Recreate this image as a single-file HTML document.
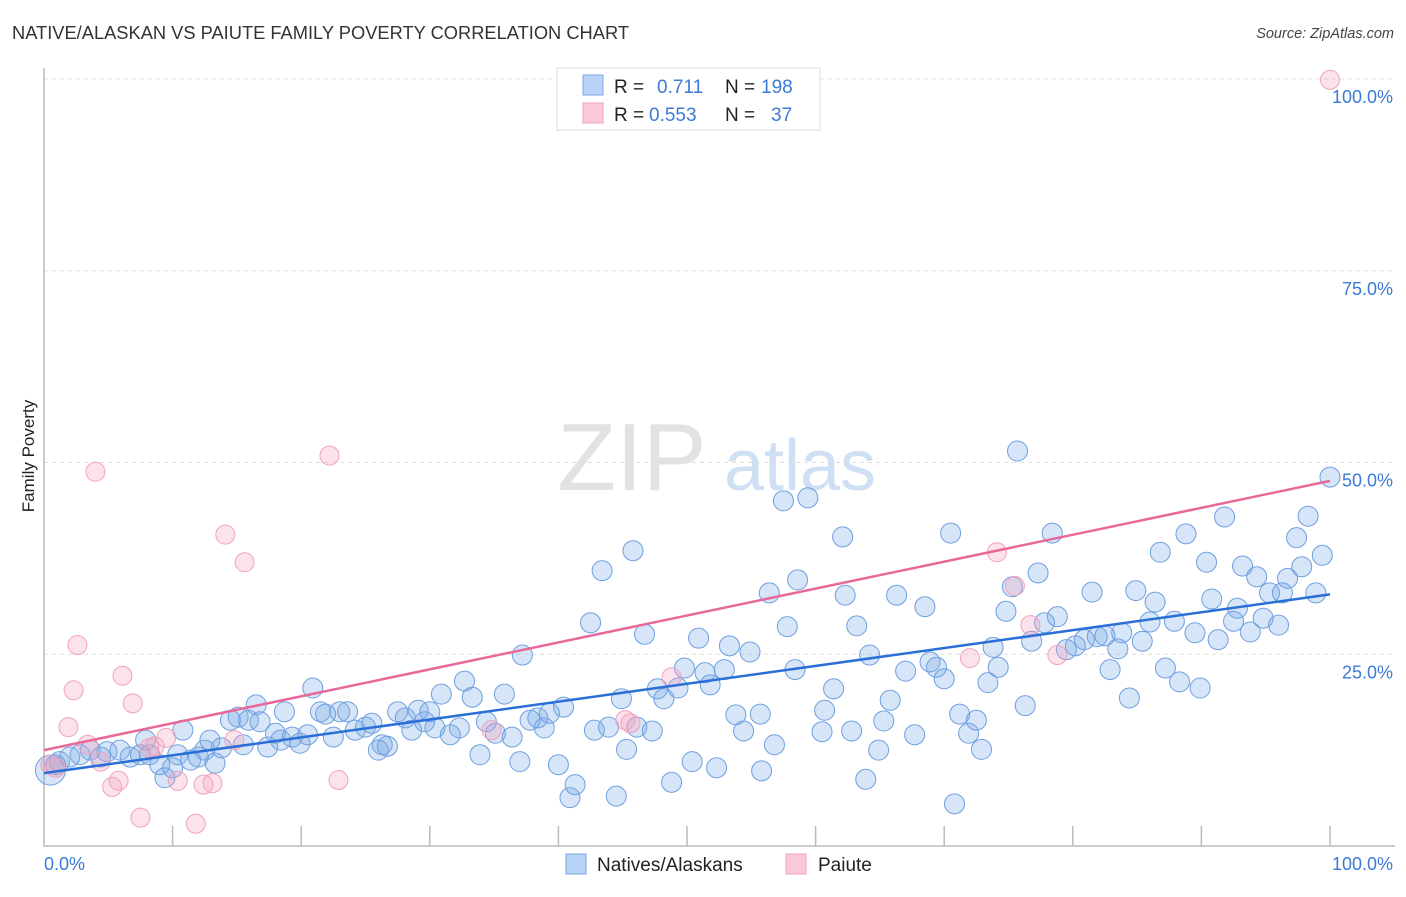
<!DOCTYPE html>
<html><head><meta charset="utf-8"><style>
body{margin:0;background:#fff;font-family:"Liberation Sans",sans-serif;}
svg text{font-family:"Liberation Sans",sans-serif;}
</style></head><body>
<svg id="chart" width="1406" height="892" xmlns="http://www.w3.org/2000/svg">
<text x="12" y="39" font-size="18.3" fill="#333">NATIVE/ALASKAN VS PAIUTE FAMILY POVERTY CORRELATION CHART</text>
<text x="1394" y="38" font-size="14.5" fill="#444" text-anchor="end" font-style="italic">Source: ZipAtlas.com</text>
<text transform="translate(34,456) rotate(-90)" font-size="17" fill="#222" text-anchor="middle">Family Poverty</text>
<g>
<text x="632" y="490" font-size="96" fill="#e2e2e2" text-anchor="middle" font-family="Liberation Serif,serif">ZIP</text>
<text x="800" y="490" font-size="72" fill="#cfe0f4" text-anchor="middle">atlas</text>
</g>
<g id="grid"></g><g id="axes"></g><g id="pts"></g><g id="lines"></g>
<g>
<rect x="557" y="68" width="263" height="62" fill="#fff" stroke="#ddd"/>
<rect x="583" y="75" width="20" height="20" fill="#b8d3f5" stroke="#7aa8e6"/>
<rect x="583" y="103" width="20" height="20" fill="#f9c9d8" stroke="#eea4bd"/>
<text x="614" y="93" font-size="19" fill="#222">R =</text><text x="657" y="93" font-size="19" fill="#3b7ad6">0.711</text>
<text x="725" y="93" font-size="19" fill="#222">N =</text><text x="761" y="93" font-size="19" fill="#3b7ad6">198</text>
<text x="614" y="121" font-size="19" fill="#222">R =</text><text x="649" y="121" font-size="19" fill="#3b7ad6">0.553</text>
<text x="725" y="121" font-size="19" fill="#222">N =</text><text x="771" y="121" font-size="19" fill="#3b7ad6">37</text>
</g>
<g>
<rect x="566" y="854" width="20" height="20" fill="#b8d3f5" stroke="#7aa8e6"/>
<text x="597" y="871" font-size="19" fill="#222">Natives/Alaskans</text>
<rect x="786" y="854" width="20" height="20" fill="#f9c9d8" stroke="#eea4bd"/>
<text x="818" y="871" font-size="19" fill="#222">Paiute</text>
</g>
</svg>
<script>
const blueX=[0.5,0.9,1.2,2.0,2.8,3.6,4.4,4.9,5.9,6.7,7.5,7.9,8.2,9.0,9.4,10.0,10.4,10.8,11.4,12.0,12.5,12.9,13.3,13.8,14.5,15.1,15.5,15.9,16.5,16.8,17.4,18.0,18.4,18.7,19.3,19.9,20.5,20.9,21.5,21.9,22.5,23.0,23.6,24.2,25.0,25.5,26.0,26.3,26.7,27.5,28.1,28.6,29.1,29.6,30.0,30.4,30.9,31.6,32.3,32.7,33.3,33.9,34.4,35.1,35.8,36.4,37.0,37.2,37.8,38.4,38.9,39.3,40.0,40.4,40.9,41.3,42.5,42.8,43.4,43.9,44.5,44.9,45.3,45.8,46.1,46.7,47.3,47.7,48.2,48.8,49.3,49.8,50.4,50.9,51.4,51.8,52.3,52.9,53.3,53.8,54.4,54.9,55.7,55.8,56.4,56.8,57.5,57.8,58.4,58.6,59.4,60.5,60.7,61.4,62.1,62.3,62.8,63.2,63.9,64.2,64.9,65.3,65.8,66.3,67.0,67.7,68.5,68.9,69.4,70.0,70.5,70.8,71.2,71.9,72.5,72.9,73.4,73.8,74.2,74.8,75.3,75.7,76.3,76.8,77.3,77.8,78.4,78.8,79.5,80.2,80.9,81.5,81.9,82.5,82.9,83.5,83.8,84.4,84.9,85.4,86.0,86.4,86.8,87.2,87.9,88.3,88.8,89.5,89.9,90.4,90.8,91.3,91.8,92.5,92.8,93.2,93.8,94.3,94.8,95.3,96.0,96.3,96.7,97.4,97.8,98.3,98.9,99.4,100];
const blueY=[9.9,10.6,11.0,11.6,11.9,12.5,11.6,12.3,12.5,11.6,11.9,13.8,11.9,10.6,8.9,10.2,11.9,15.1,11.2,11.6,12.5,13.8,10.8,12.8,16.4,16.8,13.2,16.4,18.4,16.2,12.9,14.7,13.8,17.5,14.2,13.4,14.5,20.6,17.5,17.2,14.2,17.5,17.5,15.1,15.5,16.0,12.5,13.2,13.0,17.5,16.7,15.1,17.7,16.2,17.5,15.4,19.8,14.5,15.4,21.5,19.4,11.9,16.2,14.7,19.8,14.2,11.0,24.9,16.4,16.7,15.4,17.3,10.6,18.1,6.3,8.0,29.1,15.1,35.9,15.5,6.5,19.2,12.6,38.5,15.5,27.6,15.0,20.5,19.2,8.3,20.6,23.2,11.0,27.1,22.6,21.0,10.2,23.0,26.1,17.1,15.0,25.3,17.2,9.8,33.0,13.2,45.0,28.6,23.0,34.7,45.4,14.9,17.7,20.5,40.3,32.7,15.0,28.7,8.7,24.9,12.5,16.3,19.0,32.7,22.8,14.5,31.2,24.0,23.3,21.8,40.8,5.5,17.2,14.7,16.4,12.6,21.3,25.9,23.3,30.6,33.8,51.5,18.3,26.7,35.6,29.1,40.8,29.9,25.6,26.1,26.9,33.1,27.3,27.4,23.0,25.7,27.8,19.3,33.3,26.7,29.2,31.8,38.3,23.2,29.3,21.4,40.7,27.8,20.6,37.0,32.2,26.9,42.9,29.3,31.0,36.5,27.9,35.1,29.7,33.0,28.8,33.0,34.9,40.2,36.4,43.0,33.0,37.9,48.1];
const pinkX=[0.5,0.9,1.9,2.3,2.6,3.4,4.0,4.4,5.3,5.8,6.1,6.9,7.5,8.2,8.6,9.5,10.4,11.8,12.4,13.1,14.1,14.8,15.6,22.2,22.9,34.8,45.2,45.6,48.8,72.0,74.1,75.5,76.7,78.8,100];
const pinkY=[10.6,10.2,15.5,20.3,26.2,13.2,48.8,11.0,7.7,8.5,22.2,18.6,3.7,12.8,13.0,14.1,8.5,2.9,8.0,8.2,40.6,13.8,37.0,50.9,8.6,15.1,16.4,16.0,22.0,24.5,38.3,33.9,28.8,24.9,99.9];
const trendBlue=[9.5,32.8];
const trendPink=[12.5,47.6];
const yTicks=[25,50,75,100];
const xTicks=[0,10,20,30,40,50,60,70,80,90,100];

const NS='http://www.w3.org/2000/svg';
const X=v=>44+v*12.86, Y=v=>846-v*7.67;
function mk(tag,attrs,parent){const e=document.createElementNS(NS,tag);for(const k in attrs)e.setAttribute(k,attrs[k]);document.getElementById(parent).appendChild(e);return e;}
yTicks.forEach(t=>{
 const l=mk('line',{x1:44,x2:1395,y1:Y(t),y2:Y(t),stroke:'#ddd','stroke-dasharray':'4,4'},'grid');
 
 
 const tx=mk('text',{x:1393,y:Y(t)+24,'font-size':18,fill:'#3b7ad6','text-anchor':'end'},'grid');
 tx.textContent=t.toFixed(1)+'%';
 
 
});
const ax=mk('path',{d:'M44,68 V846 H1395',stroke:'#bbb',fill:'none','stroke-width':1.5},'axes');


xTicks.forEach(t=>{if(t===0)return;
 const l=mk('line',{x1:X(t),x2:X(t),y1:826,y2:846,stroke:'#bbb','stroke-width':1.5},'axes');
 
 
});
[[0,'0.0%','start',44],[100,'100.0%','end',1393]].forEach(a=>{
 const tx=mk('text',{x:a[3],y:870,'font-size':18,fill:'#3b7ad6','text-anchor':a[2]},'axes');
 tx.textContent=a[1];
 
 
});
blueX.forEach((x,i)=>{
 const c=mk('circle',{cx:X(x),cy:Y(blueY[i]),r:i===0?15:10,fill:'rgba(120,170,230,0.3)',stroke:'#6e9fe0','stroke-width':1},'pts');
 
 
});
pinkX.forEach((x,i)=>{
 const c=mk('circle',{cx:X(x),cy:Y(pinkY[i]),r:9.5,fill:'rgba(244,160,190,0.3)',stroke:'#f0a3bd','stroke-width':1},'pts');
 
 
});
const lb=mk('line',{x1:X(0),y1:Y(trendBlue[0]),x2:X(100),y2:Y(trendBlue[1]),stroke:'#2a6fd6','stroke-width':2.5},'lines');


const lp=mk('line',{x1:X(0),y1:Y(trendPink[0]),x2:X(100),y2:Y(trendPink[1]),stroke:'#e8689a','stroke-width':2.5},'lines');


</script>
</body></html>
